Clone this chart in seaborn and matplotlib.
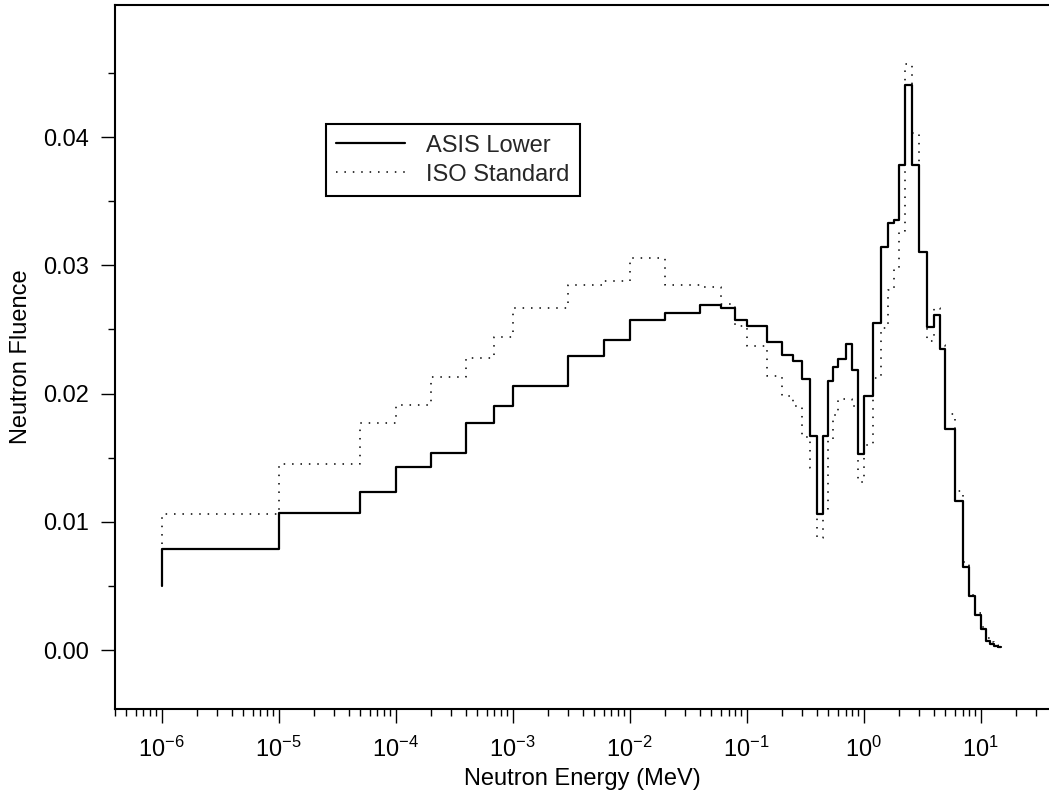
import numpy as np
import pandas as pd
import matplotlib
matplotlib.use("Agg")
import matplotlib.pyplot as plt
import seaborn as sns
from matplotlib.ticker import FixedLocator, LogLocator, FormatStrFormatter, NullFormatter, LogFormatterSciNotation

# Bin upper edges (MeV); first entry is the start point of the stair line
energy = [1e-6, 1e-5, 5e-5, 1e-4, 2e-4, 4e-4, 7e-4, 1e-3, 3e-3, 6e-3,
          1e-2, 2e-2, 4e-2, 6e-2, 8e-2, 0.1, 0.15, 0.2, 0.25, 0.3,
          0.35, 0.4, 0.45, 0.5, 0.55, 0.6, 0.7, 0.8, 0.9, 1.0,
          1.2, 1.4, 1.6, 1.8, 2.0, 2.25, 2.6, 3.0, 3.5, 4.0,
          4.5, 5.0, 6.0, 7.0, 8.0, 9.0, 10.0, 11.0, 12.0, 13.0,
          14.0, 15.0]

asis_lower = [0.0050, 0.0079, 0.0107, 0.0123, 0.0143, 0.0154, 0.0177, 0.0190, 0.0206, 0.0229,
              0.0242, 0.0257, 0.0263, 0.0269, 0.0267, 0.0257, 0.0253, 0.0240, 0.0230, 0.0225,
              0.0211, 0.0167, 0.0106, 0.0167, 0.0210, 0.0221, 0.0227, 0.0239, 0.0218, 0.0153,
              0.0198, 0.0255, 0.0314, 0.0333, 0.0335, 0.0378, 0.0441, 0.0378, 0.0310, 0.0252,
              0.0261, 0.0235, 0.0172, 0.0116, 0.0065, 0.0042, 0.0027, 0.0016, 0.0007, 0.0005,
              0.0003, 0.0002]

iso_standard = [0.0083, 0.0106, 0.0145, 0.0177, 0.0191, 0.0213, 0.0228, 0.0244, 0.0267, 0.0285,
                0.0288, 0.0306, 0.0285, 0.0283, 0.0270, 0.0253, 0.0237, 0.0214, 0.0198, 0.0190,
                0.0166, 0.0142, 0.0087, 0.0110, 0.0164, 0.0183, 0.0196, 0.0196, 0.0190, 0.0131,
                0.0160, 0.0212, 0.0251, 0.0281, 0.0297, 0.0327, 0.0457, 0.0403, 0.0310, 0.0241,
                0.0267, 0.0238, 0.0184, 0.0124, 0.0069, 0.0043, 0.0029, 0.0018, 0.0009, 0.0006,
                0.0004, 0.0002]

x_major_ticks = [1e-6, 1e-5, 1e-4, 1e-3, 1e-2, 1e-1, 1e0, 1e1]
y_major_ticks = [0.00, 0.01, 0.02, 0.03, 0.04]
y_minor_ticks = [0.005, 0.015, 0.025, 0.035, 0.045]
series_names = ["ASIS Lower", "ISO Standard"]

sns.set_theme(style="ticks")
plt.rcParams["font.family"] = ["Liberation Sans", "DejaVu Sans"]
plt.rcParams["mathtext.fontset"] = "custom"
plt.rcParams["mathtext.rm"] = "Liberation Sans"
plt.rcParams["mathtext.it"] = "Liberation Sans:italic"
plt.rcParams["mathtext.bf"] = "Liberation Sans:bold"

fig = plt.figure(figsize=(10.49, 8.10), dpi=100)
ax = fig.add_axes([115 / 1049, (810 - 709) / 810, 1 - 115 / 1049, (709 - 5) / 810])
ax.set_xscale("log")

df_a = pd.DataFrame({"energy": energy, "fluence": asis_lower})
df_i = pd.DataFrame({"energy": energy, "fluence": iso_standard})

sns.lineplot(data=df_a, x="energy", y="fluence", drawstyle="steps-pre", color="black",
             lw=1.6, label=series_names[0], ax=ax, sort=False, legend=False)
sns.lineplot(data=df_i, x="energy", y="fluence", drawstyle="steps-pre", color="black",
             lw=1.1, linestyle=(0, (1, 4.5)), label=series_names[1], ax=ax, sort=False,
             legend=False)

ax.set_xlim(10 ** -6.398, 10 ** 1.584)
ax.set_ylim(-0.0046, 0.0503)

ax.xaxis.set_major_locator(FixedLocator(x_major_ticks))
ax.xaxis.set_major_formatter(LogFormatterSciNotation(base=10))
ax.xaxis.set_minor_locator(LogLocator(base=10, subs=np.arange(2, 10), numticks=200))
ax.xaxis.set_minor_formatter(NullFormatter())
ax.yaxis.set_major_locator(FixedLocator(y_major_ticks))
ax.yaxis.set_minor_locator(FixedLocator(y_minor_ticks))
ax.yaxis.set_major_formatter(FormatStrFormatter("%.2f"))

for s in ["left", "bottom", "top"]:
    ax.spines[s].set_linewidth(1.5)
    ax.spines[s].set_color("black")
ax.spines["right"].set_visible(False)

ax.tick_params(axis="both", which="major", length=10, width=1.0, color="black",
               labelsize=17, labelcolor="black", direction="out")
ax.tick_params(axis="both", which="minor", length=5, width=1.0, color="black", direction="out")
ax.tick_params(axis="x", which="major", pad=10)
ax.tick_params(axis="y", which="major", pad=9)
ax.tick_params(top=False, right=False, which="both")

ax.set_xlabel("Neutron Energy (MeV)", fontsize=17, color="black", labelpad=4)
ax.set_ylabel("Neutron Fluence", fontsize=17, color="black", labelpad=8)

handles, labels = ax.get_legend_handles_labels()
leg = ax.legend(handles=handles, labels=labels, loc="upper left",
                bbox_to_anchor=(0.2256, 0.831), borderaxespad=0, fancybox=False,
                frameon=True, edgecolor="black", fontsize=17, handlelength=2.9,
                handletextpad=0.9, borderpad=0.45, labelspacing=0.3)
leg.get_frame().set_linewidth(1.5)
leg.get_frame().set_alpha(1)

fig.savefig("out.png", dpi=100)
